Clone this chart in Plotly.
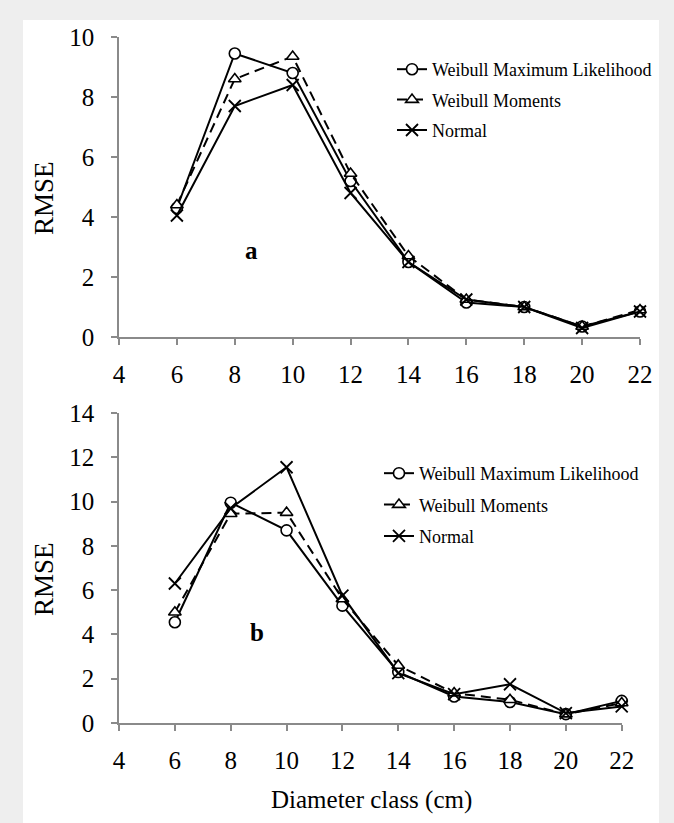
import plotly.graph_objects as go

# ---- data ----
diameter_class = [6, 8, 10, 12, 14, 16, 18, 20, 22]

a_weibull_ml = [4.3, 9.45, 8.8, 5.2, 2.5, 1.15, 1.0, 0.35, 0.85]
a_weibull_mom = [4.4, 8.6, 9.35, 5.45, 2.7, 1.25, 1.0, 0.35, 0.9]
a_normal = [4.05, 7.7, 8.4, 4.8, 2.5, 1.25, 1.0, 0.3, 0.85]

b_weibull_ml = [4.55, 9.95, 8.7, 5.3, 2.3, 1.2, 0.95, 0.4, 1.0]
b_weibull_mom = [5.0, 9.45, 9.5, 5.6, 2.6, 1.35, 1.05, 0.4, 0.9]
b_normal = [6.3, 9.7, 11.55, 5.75, 2.25, 1.3, 1.75, 0.45, 0.75]

series_names = ["Weibull Maximum Likelihood", "Weibull Moments", "Normal"]
x_ticks = [4, 6, 8, 10, 12, 14, 16, 18, 20, 22]

FONT = "Liberation Serif"
AXIS_GRAY = "#8a8a8a"

fig = go.Figure()

styles = [
    dict(symbol="circle", size=11, color="white", line=dict(color="black", width=1.6)),
    dict(symbol="triangle-up", size=11, color="white", line=dict(color="black", width=1.6)),
    dict(symbol="x-thin", size=12, color="black", line=dict(color="black", width=1.8)),
]
dashes = ["solid", "10px,6px", "solid"]

panels = [
    ("x", "y", "legend", [a_weibull_ml, a_weibull_mom, a_normal]),
    ("x2", "y2", "legend2", [b_weibull_ml, b_weibull_mom, b_normal]),
]
for xa, ya, lg, series in panels:
    for i, (name, vals) in enumerate(zip(series_names, series)):
        fig.add_trace(go.Scatter(
            x=diameter_class, y=vals, name=name, mode="lines+markers",
            line=dict(color="black", width=2, dash=dashes[i]),
            marker=styles[i], xaxis=xa, yaxis=ya, legend=lg,
            legendgroup=f"{lg}_{i}", cliponaxis=False,
        ))

axis_common = dict(
    showline=True, linecolor=AXIS_GRAY, linewidth=1.5,
    ticks="outside", ticklen=6, tickwidth=1.5, tickcolor=AXIS_GRAY,
    showgrid=False, zeroline=False,
    tickfont=dict(family=FONT, size=25, color="black"),
)

fig.update_layout(
    width=674, height=823,
    paper_bgcolor="#eeeeee", plot_bgcolor="white",
    margin=dict(l=119, r=34, t=37, b=100),
    showlegend=True,
    xaxis=dict(domain=[0, 1], range=[4, 22], tickvals=x_ticks, anchor="y",
               ticklabelstandoff=8, **axis_common),
    yaxis=dict(domain=[0.5627, 1], range=[0, 10], dtick=2, anchor="x",
               ticklabelstandoff=12, **axis_common),
    xaxis2=dict(domain=[0, 0.9649], range=[4, 22], tickvals=x_ticks, anchor="y2",
                ticklabelstandoff=8, **axis_common),
    yaxis2=dict(domain=[0, 0.4519], range=[0, 14], dtick=2, anchor="x2",
                ticklabelstandoff=12, **axis_common),
    legend=dict(x=0.524, y=0.9796, xanchor="left", yanchor="top",
                bgcolor="rgba(0,0,0,0)", traceorder="grouped", tracegroupgap=4,
                font=dict(family=FONT, size=18, color="black")),
    legend2=dict(x=0.499, y=0.3907, xanchor="left", yanchor="top",
                 bgcolor="rgba(0,0,0,0)", traceorder="grouped", tracegroupgap=5,
                 font=dict(family=FONT, size=18, color="black")),
    shapes=[dict(type="rect", xref="paper", yref="paper",
                 x0=-0.1843, x1=1.0365, y0=-0.1458, y1=1.0248,
                 fillcolor="white", line=dict(width=0), layer="below")],
    annotations=[
        dict(text="RMSE", xref="paper", yref="paper", x=-0.1440, y=0.7653,
             textangle=-90, showarrow=False, xanchor="center", yanchor="middle",
             font=dict(family=FONT, size=27, color="black")),
        dict(text="RMSE", xref="paper", yref="paper", x=-0.1440, y=0.2099,
             textangle=-90, showarrow=False, xanchor="center", yanchor="middle",
             font=dict(family=FONT, size=27, color="black")),
        dict(text="Diameter class (cm)", xref="paper", yref="paper", x=0.4856, y=-0.1122,
             showarrow=False, xanchor="center", yanchor="middle",
             font=dict(family=FONT, size=25, color="black")),
        dict(text="<b>a</b>", xref="paper", yref="paper", x=0.2543, y=0.6895,
             showarrow=False, xanchor="center", yanchor="middle",
             font=dict(family=FONT, size=25, color="black")),
        dict(text="<b>b</b>", xref="paper", yref="paper", x=0.2649, y=0.1312,
             showarrow=False, xanchor="center", yanchor="middle",
             font=dict(family=FONT, size=25, color="black")),
    ],
)

fig.write_html("out.html", config={"displayModeBar": False},
               post_script="document.body.style.margin='0';document.body.style.overflow='hidden';")
